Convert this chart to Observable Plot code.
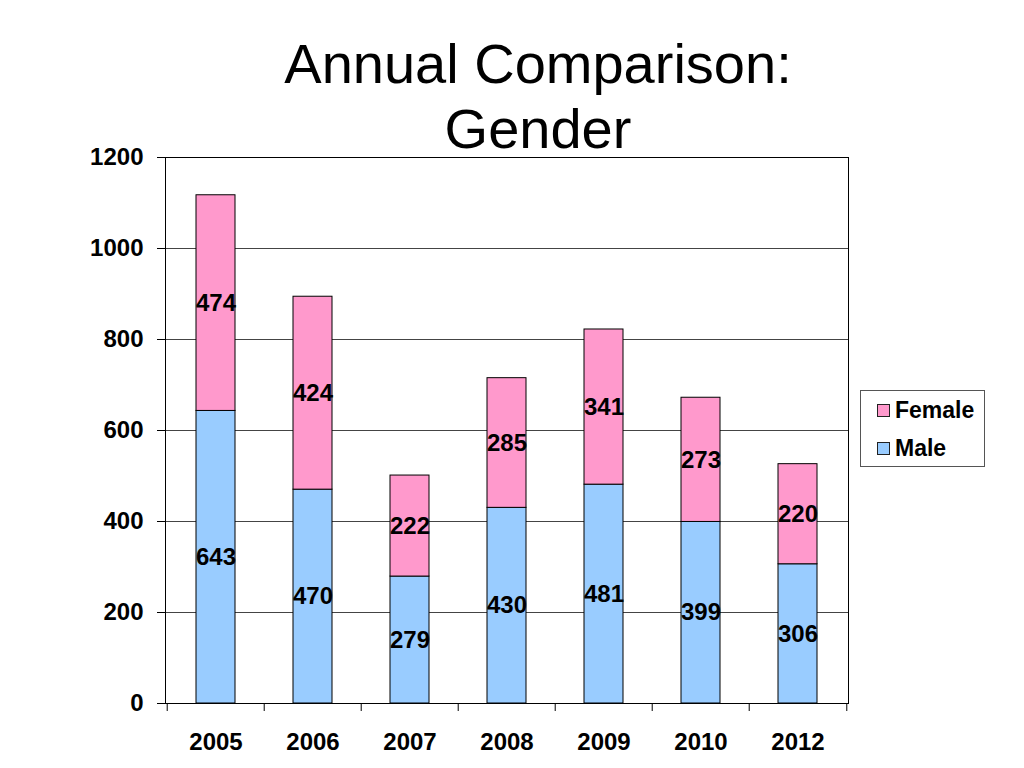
<!DOCTYPE html>
<html>
<head>
<meta charset="utf-8">
<script src="https://cdn.jsdelivr.net/npm/d3@7"></script>
<script src="https://cdn.jsdelivr.net/npm/@observablehq/plot@0.6"></script>
<style>
  body { margin: 0; background: #fff; font-family: "Liberation Sans", Arial, sans-serif; }
  #wrap { position: relative; width: 1024px; height: 768px; overflow: hidden; }
  #title { height: 150px; box-sizing: border-box; padding-top: 31px; padding-left: 52px;
           text-align: center; font-size: 56px; line-height: 65px; color: #000; }
  #legend { position: absolute; left: 860px; top: 390px; width: 125px; height: 77px; box-sizing: border-box;
            border: 1px solid #555; background: #fff; font-weight: bold; font-size: 23px; }
  .item { position: absolute; left: 16px; display: flex; align-items: center; }
  .sw { width: 11px; height: 11px; border: 1px solid #222; margin-right: 5px; }
  svg { overflow: visible; }
</style>
</head>
<body>
<div id="wrap">
  <div id="title">Annual Comparison:<br>Gender</div>
  <div id="chart"></div>
  <div id="legend">
    <div class="item" style="top:6px"><div class="sw" style="background:#FF99CC"></div>Female</div>
    <div class="item" style="top:44px"><div class="sw" style="background:#99CCFF"></div>Male</div>
  </div>
</div>
<script>
const years = ["2005", "2006", "2007", "2008", "2009", "2010", "2012"];
const male = [643, 470, 279, 430, 481, 399, 306];
const female = [474, 424, 222, 285, 341, 273, 220];
const series = ["Male", "Female"];
const colors = ["#99CCFF", "#FF99CC"];
const yTicks = [0, 200, 400, 600, 800, 1000, 1200];

const rows = [
  ...years.map((y, i) => ({year: y, gender: "Male", value: male[i]})),
  ...years.map((y, i) => ({year: y, gender: "Female", value: female[i]}))
];

const W = 1024, mL = 165, mR = 176;
const step = (W - mL - mR) / years.length;
const font = "'Liberation Sans', Arial, sans-serif";

const chart = Plot.plot({
  width: W,
  height: 618,
  marginTop: 7,
  marginBottom: 65,
  marginLeft: mL,
  marginRight: mR,
  style: {fontFamily: font, background: "white", color: "black"},
  x: {domain: years, paddingInner: 0.595, paddingOuter: 0.2975},
  y: {domain: [0, 1200]},
  color: {domain: series, range: colors},
  marks: [
    Plot.gridY(yTicks, {stroke: "#444", strokeOpacity: 1}),
    Plot.barY(rows, {x: "year", y: "value", z: "gender", fill: "gender", stroke: "black", strokeWidth: 1}),
    Plot.text(rows, Plot.stackY({x: "year", y: "value", z: "gender", text: "value",
      fontSize: 24, fontWeight: "bold", fill: "black"})),
    Plot.frame({stroke: "black"}),
    Plot.axisY({ticks: yTicks, tickFormat: d => String(d), tickSize: 8, tickPadding: 14, fontSize: 24, fontWeight: "bold", label: null}),
    Plot.axisX({tickSize: 0, tickPadding: 29, fontSize: 24, fontWeight: "bold", label: null}),
    Plot.axisX({tickSize: 8, tickFormat: () => "", dx: -step / 2, label: null}),
    Plot.axisX({ticks: [years[years.length - 1]], tickSize: 8, tickFormat: () => "", dx: step / 2, label: null})
  ]
});
document.getElementById("chart").appendChild(chart);
</script>
</body>
</html>
